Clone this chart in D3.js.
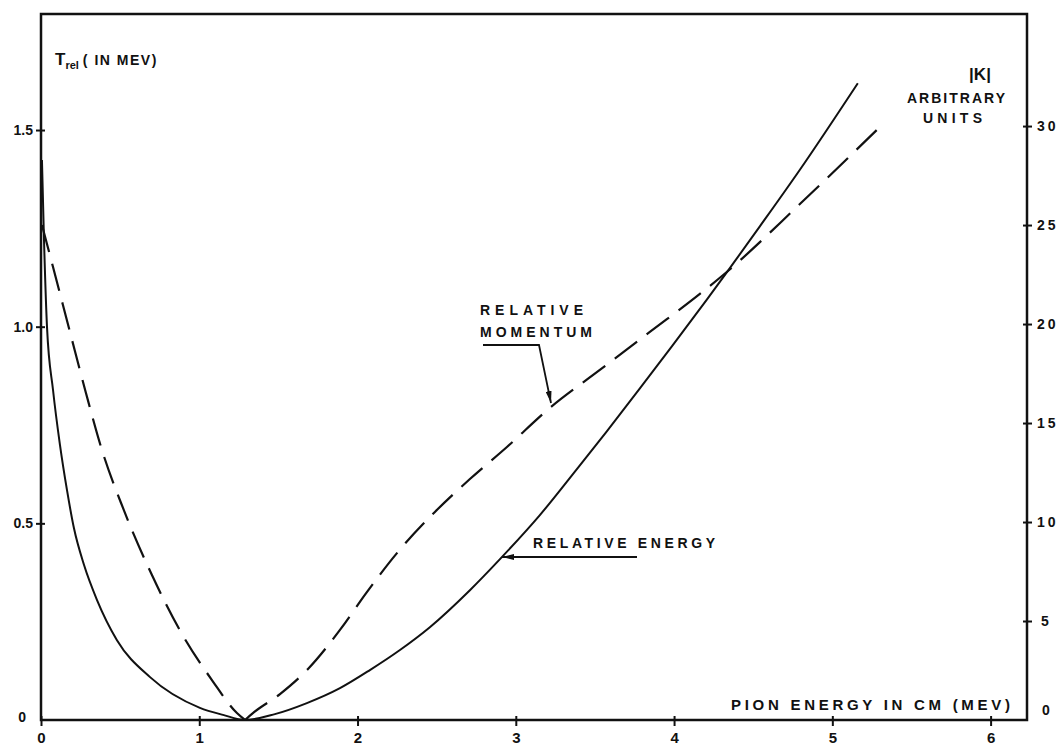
<!DOCTYPE html>
<html>
<head>
<meta charset="utf-8">
<script src="https://cdn.jsdelivr.net/npm/d3@7"></script>
<style>
  html, body { margin: 0; padding: 0; background: #fff; }
  svg { display: block; }
  text { font-family: "Liberation Sans", Arial, sans-serif; font-weight: bold; fill: #111; }
</style>
</head>
<body>
<div id="chart"></div>
<script>
// tick values
const xTicks = [0, 1, 2, 3, 4, 5, 6];
const leftTicks = [0, 0.5, 1.0, 1.5];
const leftTickLabels = ["0", "0.5", "1.0", "1.5"];
const rightTicks = [0, 5, 10, 15, 20, 25, 30];

// relative energy (solid, left axis, MeV)
const energyX = [0.006, 0.019, 0.038, 0.076, 0.120, 0.164, 0.208, 0.272, 0.354, 0.480,
                 0.689, 1.004, 1.150, 1.289, 1.478, 1.680, 1.889, 2.078, 2.268, 2.457,
                 2.710, 2.900, 3.152, 3.386, 3.575, 3.784, 3.992, 4.207, 4.333, 4.542,
                 4.795, 5.161];
const energyT = [1.424, 1.220, 0.999, 0.839, 0.699, 0.585, 0.488, 0.394, 0.305, 0.203,
                 0.109, 0.031, 0.013, 0, 0.015, 0.043, 0.081, 0.127, 0.178, 0.236,
                 0.330, 0.409, 0.521, 0.638, 0.734, 0.843, 0.953, 1.069, 1.138, 1.255,
                 1.399, 1.619];

// relative momentum |K| (dashed, right axis, arbitrary units)
const momentumX = [0.006, 0.076, 0.183, 0.284, 0.385, 0.518, 0.701, 0.891, 1.080, 1.238,
                   1.289, 1.339, 1.510, 1.687, 1.889, 2.059, 2.249, 2.489, 2.710, 2.944,
                   3.215, 3.531, 3.847, 4.163, 4.333, 4.795, 5.332];
const momentumK = [25.0, 22.88, 19.60, 16.52, 13.64, 10.71, 7.32, 4.34, 2.02, 0.35,
                   0, 0.35, 1.31, 2.58, 4.55, 6.46, 8.43, 10.51, 12.17, 13.79,
                   15.76, 17.68, 19.60, 21.52, 22.63, 26.06, 30.20];

const W = 1064, H = 746;
const plotL = 41, plotR = 1027, plotT = 14, plotB = 720;

const svg = d3.select("#chart").append("svg")
  .attr("width", W).attr("height", H);

const x = d3.scaleLinear().domain([0, 6.23]).range([plotL, plotR]);
const yL = d3.scaleLinear().domain([0, 1.795]).range([plotB, plotT]);
const yR = d3.scaleLinear().domain([0, 35.66]).range([plotB, plotT]);

// frame
svg.append("rect")
  .attr("x", plotL).attr("y", plotT)
  .attr("width", plotR - plotL).attr("height", plotB - plotT)
  .attr("fill", "none").attr("stroke", "#111").attr("stroke-width", 2.5);

// bottom axis
const gx = svg.append("g")
  .attr("transform", `translate(0,${plotB})`)
  .call(d3.axisBottom(x).tickValues(xTicks).tickFormat(d3.format("d")).tickSize(5).tickPadding(7));
gx.select(".domain").remove();
gx.selectAll(".tick line").attr("y1", -4).attr("y2", 6).attr("stroke", "#111").attr("stroke-width", 2);
gx.selectAll(".tick text").style("font-size", "15px");

// left axis
const gl = svg.append("g")
  .attr("transform", `translate(${plotL},0)`)
  .call(d3.axisLeft(yL).tickValues(leftTicks).tickFormat((d, i) => leftTickLabels[i]).tickSize(5).tickPadding(3));
gl.select(".domain").remove();
gl.selectAll(".tick line").attr("x1", 4).attr("stroke", "#111").attr("stroke-width", 2);
gl.selectAll(".tick text").style("font-size", "14px");
gl.selectAll(".tick").filter(d => d === 0).select("line").remove();
gl.selectAll(".tick").filter(d => d === 0).select("text").attr("x", -15).attr("y", -3);

// right axis
const gr = svg.append("g")
  .attr("transform", `translate(${plotR},0)`)
  .call(d3.axisRight(yR).tickValues(rightTicks).tickSize(5).tickPadding(5));
gr.select(".domain").remove();
gr.selectAll(".tick line").attr("x1", -4).attr("stroke", "#111").attr("stroke-width", 2);
gr.selectAll(".tick text").style("font-size", "14px").style("letter-spacing", "3px");
gr.selectAll(".tick").filter(d => d === 0).select("line").remove();
gr.selectAll(".tick").filter(d => d === 0).select("text").attr("x", 15).attr("y", -10);
gr.selectAll(".tick").filter(d => d === 5).select("text").attr("x", 14);

// curves
const energy = energyX.map((d, i) => [d, energyT[i]]);
const momentum = momentumX.map((d, i) => [d, momentumK[i]]);
const minIdx = momentumK.indexOf(d3.min(momentumK));

const lineL = d3.line().x(d => x(d[0])).y(d => yL(d[1])).curve(d3.curveMonotoneX);
const lineR = d3.line().x(d => x(d[0])).y(d => yR(d[1])).curve(d3.curveMonotoneX);

svg.append("path")
  .datum(energy)
  .attr("fill", "none").attr("stroke", "#111").attr("stroke-width", 2)
  .attr("d", lineL);

[momentum.slice(0, minIdx + 1), momentum.slice(minIdx)].forEach(branch => {
  svg.append("path")
    .datum(branch)
    .attr("fill", "none").attr("stroke", "#111").attr("stroke-width", 2.2)
    .attr("stroke-dasharray", "28,12")
    .attr("d", lineR);
});

// arrowheads
const defs = svg.append("defs");
defs.append("marker")
  .attr("id", "arrow")
  .attr("viewBox", "0 0 12 6").attr("refX", 12).attr("refY", 3)
  .attr("markerWidth", 12).attr("markerHeight", 6)
  .attr("markerUnits", "userSpaceOnUse").attr("orient", "auto")
  .append("path").attr("d", "M0,0L12,3L0,6Z").attr("fill", "#111");

// axis titles
const tl = svg.append("text").attr("x", 55).attr("y", 65);
tl.append("tspan").style("font-size", "17px").text("T");
tl.append("tspan").style("font-size", "11px").attr("dy", 4).text("rel");
tl.append("tspan").style("font-size", "14px").attr("dy", -4).attr("dx", 4)
  .style("letter-spacing", "1.5px").text("( IN MEV)");

svg.append("text").attr("x", 980).attr("y", 80).attr("text-anchor", "middle")
  .style("font-size", "17px").text("|K|");
svg.append("text").attr("x", 907).attr("y", 103)
  .attr("textLength", 98).attr("lengthAdjust", "spacing")
  .style("font-size", "14px").text("ARBITRARY");
svg.append("text").attr("x", 923).attr("y", 123)
  .attr("textLength", 59).attr("lengthAdjust", "spacing")
  .style("font-size", "14px").text("UNITS");

svg.append("text").attr("x", 731).attr("y", 710)
  .attr("textLength", 279).attr("lengthAdjust", "spacing")
  .style("font-size", "15px").text("PION ENERGY IN CM (MEV)");

// curve labels
svg.append("text").attr("x", 480).attr("y", 315)
  .attr("textLength", 103).attr("lengthAdjust", "spacing")
  .style("font-size", "14px").text("RELATIVE");
svg.append("text").attr("x", 480).attr("y", 337)
  .attr("textLength", 112).attr("lengthAdjust", "spacing")
  .style("font-size", "14px").text("MOMENTUM");
svg.append("path")
  .attr("d", "M483,345L539,345L551,403")
  .attr("fill", "none").attr("stroke", "#111").attr("stroke-width", 1.8)
  .attr("marker-end", "url(#arrow)");

svg.append("text").attr("x", 533).attr("y", 548)
  .attr("textLength", 182).attr("lengthAdjust", "spacing")
  .style("font-size", "14px").text("RELATIVE ENERGY");
svg.append("path")
  .attr("d", "M637,557L502,557")
  .attr("fill", "none").attr("stroke", "#111").attr("stroke-width", 1.8)
  .attr("marker-end", "url(#arrow)");
</script>
</body>
</html>
